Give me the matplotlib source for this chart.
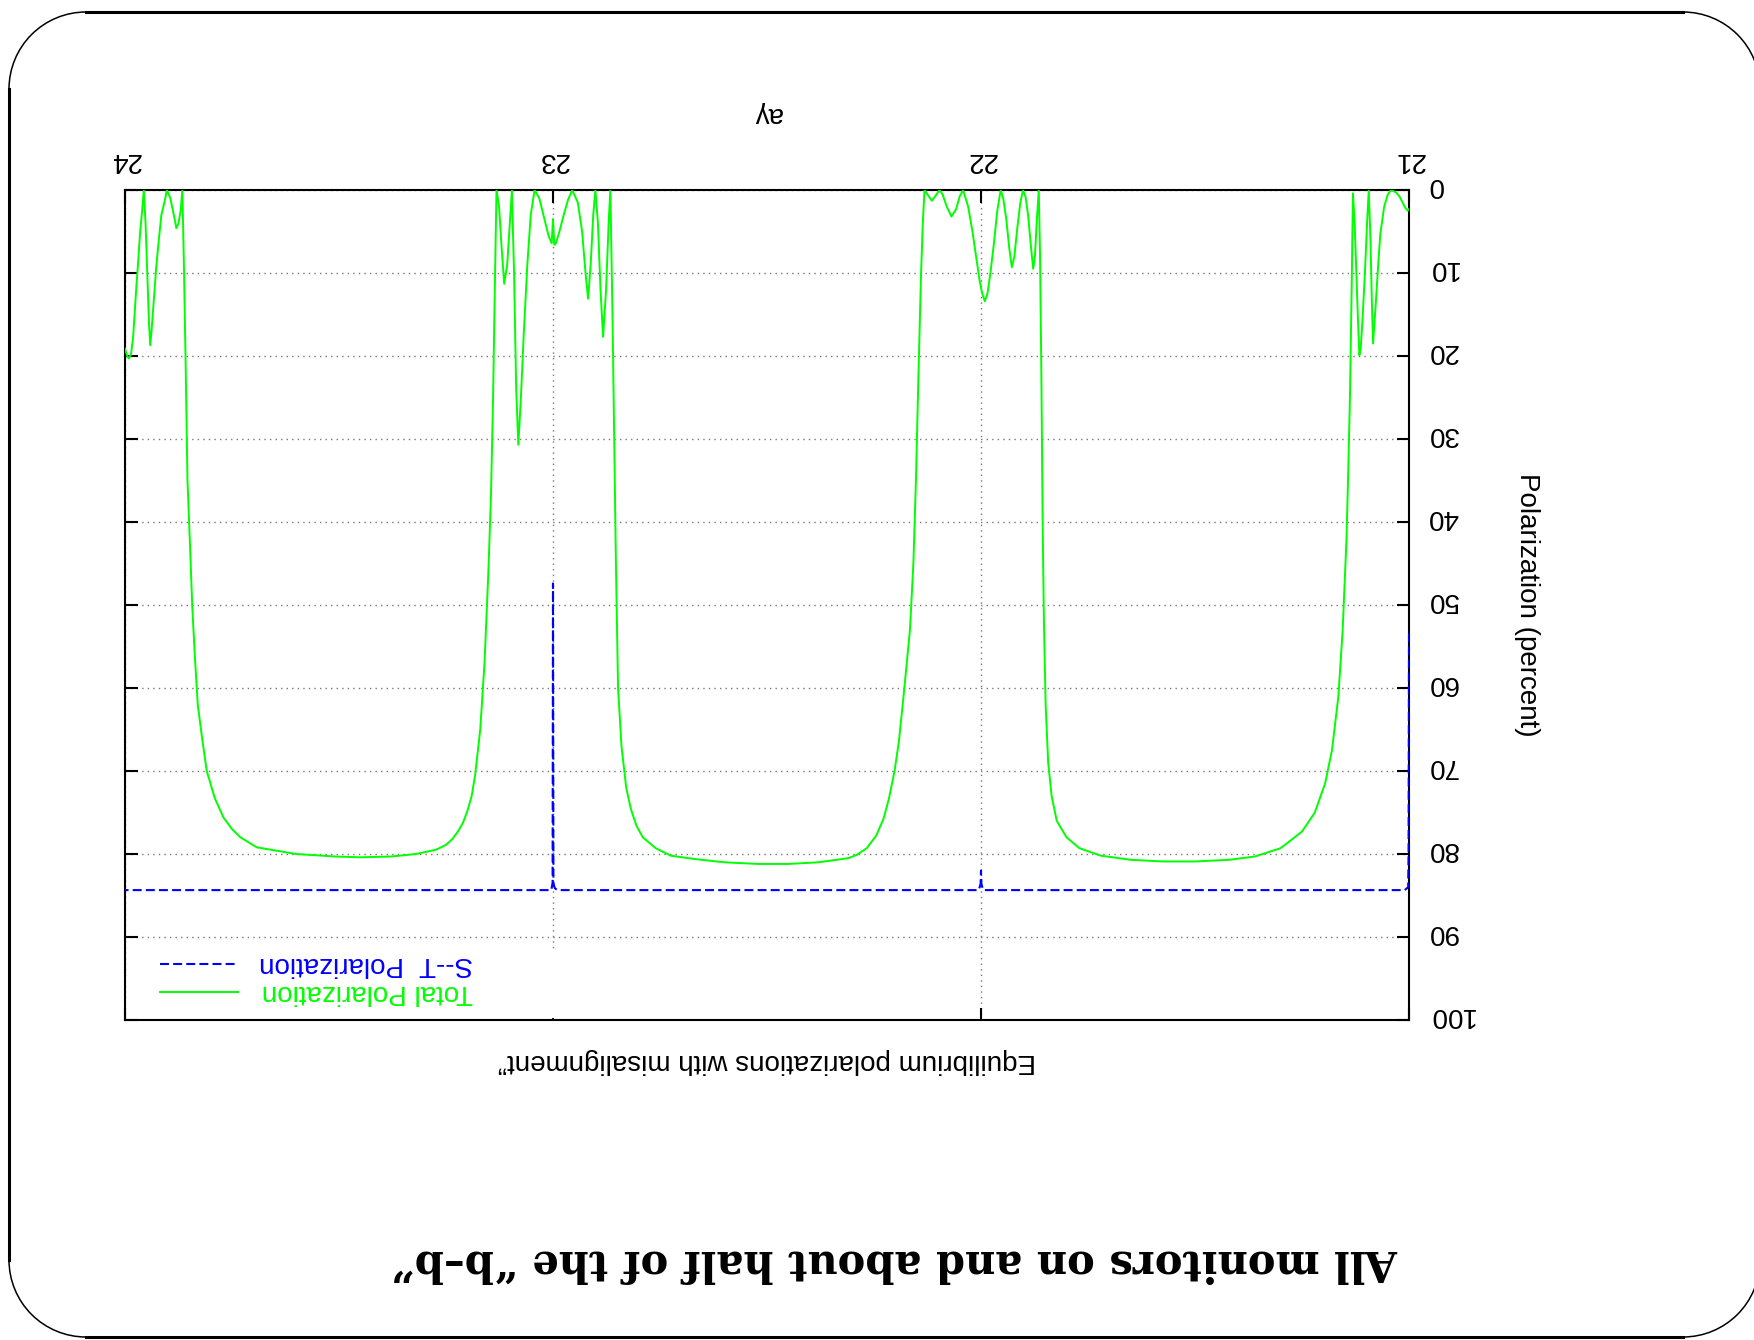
import matplotlib
matplotlib.use('Agg')
import matplotlib.pyplot as plt
import matplotlib.transforms as mtransforms
from matplotlib.patches import Arc, Rectangle
from matplotlib.lines import Line2D

plt.rcParams['font.family'] = ['Liberation Sans', 'DejaVu Sans']

# total polarization (percent) vs a*gamma
total_x = [21.000, 21.003, 21.008, 21.015, 21.022, 21.030, 21.042, 21.050, 21.058, 21.067,
           21.072, 21.078, 21.084, 21.087, 21.090, 21.094, 21.098, 21.103, 21.109, 21.113,
           21.116, 21.119, 21.123, 21.127, 21.131, 21.134, 21.138, 21.142, 21.146, 21.155,
           21.165, 21.180, 21.196, 21.220, 21.250, 21.300, 21.360, 21.420, 21.500, 21.575,
           21.650, 21.720, 21.770, 21.800, 21.823, 21.835, 21.843, 21.849, 21.853, 21.856,
           21.859, 21.862, 21.865, 21.870, 21.874, 21.878, 21.883, 21.890, 21.896, 21.902,
           21.908, 21.915, 21.922, 21.928, 21.934, 21.941, 21.948, 21.954, 21.962, 21.970,
           21.978, 21.985, 21.991, 21.997, 22.003, 22.010, 22.020, 22.030, 22.042, 22.050,
           22.058, 22.069, 22.080, 22.090, 22.097, 22.106, 22.115, 22.124, 22.132, 22.136,
           22.140, 22.146, 22.152, 22.158, 22.166, 22.181, 22.192, 22.202, 22.215, 22.228,
           22.245, 22.267, 22.290, 22.310, 22.380, 22.450, 22.520, 22.600, 22.670, 22.725,
           22.760, 22.790, 22.805, 22.818, 22.829, 22.840, 22.848, 22.853, 22.857, 22.861,
           22.866, 22.870, 22.876, 22.883, 22.889, 22.895, 22.901, 22.906, 22.912, 22.918,
           22.924, 22.932, 22.942, 22.955, 22.965, 22.975, 22.985, 22.993, 22.997, 23.000,
           23.003, 23.010, 23.020, 23.032, 23.043, 23.052, 23.060, 23.068, 23.075, 23.081,
           23.086, 23.091, 23.096, 23.101, 23.107, 23.114, 23.120, 23.126, 23.132, 23.136,
           23.140, 23.145, 23.151, 23.160, 23.170, 23.182, 23.190, 23.200, 23.210, 23.221,
           23.235, 23.250, 23.274, 23.320, 23.378, 23.450, 23.509, 23.600, 23.692, 23.730,
           23.750, 23.770, 23.790, 23.809, 23.820, 23.830, 23.837, 23.843, 23.848, 23.854,
           23.858, 23.862, 23.866, 23.870, 23.875, 23.880, 23.886, 23.894, 23.902, 23.908,
           23.915, 23.921, 23.927, 23.933, 23.938, 23.941, 23.944, 23.948, 23.952, 23.956,
           23.960, 23.965, 23.969, 23.973, 23.977, 23.981, 23.986, 23.991, 23.995, 24.000]
total_y = [2.3, 2.5, 2.2, 1.5, 0.8, 0.3, 0.0, 0.6, 2.0, 5.3,
           9.0, 14.0, 18.5, 13.0, 6.0, 0.0, 4.0, 10.0, 16.0, 19.2,
           19.9, 16.0, 10.0, 4.0, 0.4, 12.0, 25.0, 34.0, 42.0, 53.0,
           61.0, 67.5, 71.5, 75.0, 77.3, 79.3, 80.3, 80.7, 80.9, 80.9,
           80.7, 80.2, 79.3, 78.0, 76.0, 73.0, 69.0, 62.0, 52.0, 40.0,
           22.0, 8.0, 0.0, 4.0, 8.0, 9.5, 7.0, 3.0, 0.8, 0.0,
           1.5, 4.5, 8.0, 9.3, 7.0, 3.5, 1.0, 0.0, 2.5, 6.5,
           10.0, 12.5, 13.4, 12.5, 11.0, 8.5, 5.0, 2.0, 0.0, 0.8,
           2.3, 3.2, 2.0, 0.5, 0.0, 0.7, 1.3, 0.6, 0.0, 4.0,
           10.0, 22.0, 35.0, 45.0, 53.0, 61.0, 66.5, 70.0, 73.3, 75.8,
           77.8, 79.3, 80.1, 80.5, 81.0, 81.2, 81.2, 81.0, 80.6, 80.2,
           79.3, 78.0, 76.6, 74.6, 72.0, 67.0, 60.0, 45.0, 30.0, 15.0,
           0.0, 4.0, 12.0, 17.7, 12.0, 4.0, 0.0, 3.0, 9.0, 13.1,
           10.0, 5.0, 1.5, 0.0, 1.2, 3.0, 5.0, 6.4, 6.6, 3.5,
           6.4, 5.6, 3.5, 1.0, 0.0, 3.0, 9.0, 17.0, 25.0, 30.7,
           24.0, 10.0, 0.0, 4.0, 9.0, 11.3, 7.0, 2.0, 0.0, 12.0,
           25.0, 37.0, 46.0, 57.0, 65.0, 70.5, 73.0, 74.8, 76.2, 77.2,
           78.2, 78.9, 79.5, 80.0, 80.3, 80.4, 80.3, 80.0, 79.2, 78.0,
           77.0, 75.6, 73.3, 70.0, 66.0, 62.0, 56.0, 50.0, 43.0, 35.0,
           22.0, 10.0, 0.0, 2.5, 4.0, 4.6, 3.0, 1.0, 0.0, 1.5,
           3.0, 6.0, 9.3, 13.5, 17.0, 18.7, 16.0, 10.0, 4.0, 0.0,
           2.5, 5.3, 8.5, 11.3, 14.5, 17.7, 19.8, 20.3, 20.0, 19.1]

# Sokolov-Ternov polarization
st_x = [21.000, 21.001, 21.002, 21.010, 21.995, 21.999, 22.000, 22.001, 22.005,
        22.990, 22.996, 22.999, 23.000, 23.001, 23.004, 24.000]
st_y = [53.4, 80.0, 84.0, 84.35, 84.35, 83.6, 82.0, 83.6, 84.35,
        84.35, 84.1, 83.5, 47.4, 83.5, 84.35, 84.35]

x_ticks = [21, 22, 23, 24]
y_ticks = [0, 10, 20, 30, 40, 50, 60, 70, 80, 90, 100]

W, H = 1754, 1340
fig = plt.figure(figsize=(W / 100, H / 100), dpi=100)

# slide frame with rounded corners (pixel coords)
frame = fig.add_axes([0, 0, 1, 1], zorder=-1)
frame.set_xlim(0, W)
frame.set_ylim(H, 0)
frame.axis('off')
r = 77
L, R, T, B = 9, 1760, 12, 1337
frame.add_line(Line2D([L + r, R - r], [T, T], color='black', lw=2.2))
frame.add_line(Line2D([L + r, R - r], [B, B], color='black', lw=2.2))
frame.add_line(Line2D([L, L], [T + r, B - r], color='black', lw=2.2))
frame.add_patch(Arc((L + r, T + r), 2 * r, 2 * r, theta1=180, theta2=270, color='black', lw=1.1))
frame.add_patch(Arc((L + r, B - r), 2 * r, 2 * r, theta1=90, theta2=180, color='black', lw=1.1))
frame.add_patch(Arc((R - r, T + r), 2 * r, 2 * r, theta1=270, theta2=360, color='black', lw=1.1))
frame.add_patch(Arc((R - r, B - r), 2 * r, 2 * r, theta1=0, theta2=90, color='black', lw=1.1))

fig.text(895 / W, 1 - 1262 / H, 'All monitors on and about half of the \u201cb\u2013b\u201d',
         family='DejaVu Serif', weight='bold', fontsize=30, rotation=180,
         ha='center', va='center')

# the plot itself, turned upside down
ax = fig.add_axes([125 / W, 1 - 1020 / H, (1409 - 125) / W, (1020 - 190) / H])
ax.plot(total_x, total_y, color='#00ff00', lw=1.4, zorder=3)
ax.plot(st_x, st_y, color='#0000ff', lw=1.5, linestyle=(0, (4.3, 2.0)), zorder=3)

ax.set_xlim(24, 21)
ax.set_ylim(100, 0)
ax.set_xticks(x_ticks)
ax.set_yticks(y_ticks)
ax.xaxis.tick_top()
ax.yaxis.tick_right()
ax.tick_params(direction='in', length=9, width=1.5, top=True, bottom=True,
               left=True, right=True, labeltop=True, labelbottom=False,
               labelright=True, labelleft=False, labelsize=20, labelrotation=180)
ax.tick_params(axis='x', pad=12)
ax.tick_params(axis='y', pad=13)
# nudge y labels up a little (rotated text puts the descent space on top)
nudge = mtransforms.ScaledTranslation(0, 3.5 / 72, fig.dpi_scale_trans)
for lab in ax.get_yticklabels():
    lab.set_va('center')
    lab.set_transform(lab.get_transform() + nudge)
for s in ax.spines.values():
    s.set_linewidth(1.5)
ax.set_axisbelow(True)
ax.grid(True, color='#777777', linestyle=(0, (1, 3)), lw=1.0)

ax.xaxis.set_label_position('top')
ax.set_xlabel('a\u03b3', fontsize=20, rotation=180, labelpad=19)
ax.yaxis.set_label_position('right')
ax.set_ylabel('Polarization (percent)', fontsize=20, rotation=270, labelpad=48)

ax.text(0.5, -0.05, 'Equilibrium polarizations with misalignment\u201d', transform=ax.transAxes,
        fontsize=20, rotation=180, ha='center', va='center')

# key
ax.add_patch(Rectangle((0.002, 0.002), 0.34, 0.08, transform=ax.transAxes,
                       facecolor='white', edgecolor='none', zorder=1))
ax.add_line(Line2D([0.027, 0.088], [0.0675, 0.0675], transform=ax.transAxes,
                   color='#0000ff', lw=1.5, linestyle=(0, (4.3, 2.0))))
ax.add_line(Line2D([0.027, 0.088], [0.034, 0.034], transform=ax.transAxes,
                   color='#00ff00', lw=1.4))
ax.text(0.271, 0.0675, 'S--T  Polarization', transform=ax.transAxes, color='#0000ff',
        fontsize=20, rotation=180, ha='right', va='center')
ax.text(0.271, 0.034, 'Total Polarization', transform=ax.transAxes, color='#00ff00',
        fontsize=20, rotation=180, ha='right', va='center')

fig.savefig('out.png', dpi=100)
